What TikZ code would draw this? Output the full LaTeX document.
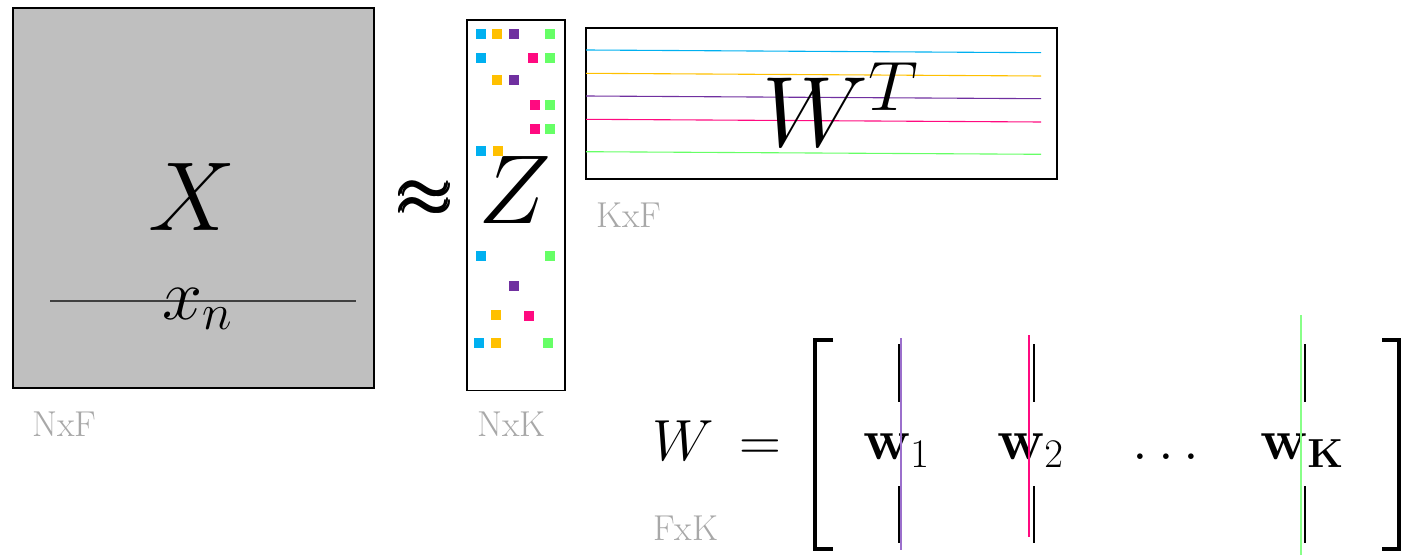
\RequirePackage{fix-cm}
\documentclass[tikz,border=0pt]{standalone}
\usepackage{amsmath}
\definecolor{ccyan}{HTML}{00B0F0}
\definecolor{cyellow}{HTML}{FFC000}
\definecolor{cpurple}{HTML}{7030A0}
\definecolor{cpink}{HTML}{FF0A80}
\definecolor{cgreen}{HTML}{66FF66}
\definecolor{lpurple}{HTML}{9B6FCC}
\definecolor{lgreen}{HTML}{88FF88}
\definecolor{labgray}{HTML}{A8A8A8}
\definecolor{boxgray}{HTML}{BFBFBF}
\tikzset{
  mat/.style={draw=black, line width=2.4pt},
  sq/.style={minimum size=10pt, inner sep=0pt, draw=none},
  dimlabel/.style={anchor=base west, inner sep=0pt, text=labgray, font=\fontsize{36}{36}\selectfont},
  bigmath/.style={inner sep=0pt, font=\fontsize{98}{98}\selectfont},
  midmath/.style={inner sep=0pt, font=\fontsize{58}{58}\selectfont},
  apxfont/.style={inner sep=0pt, font=\fontsize{72}{72}\selectfont},
  colline/.style={line width=1.1pt},
  bar/.style={line width=2pt, draw=black},
}
\begin{document}
\begin{tikzpicture}[x=1pt,y=-1pt]
\useasboundingbox (0,0) rectangle (1410,556);
% X matrix
\node[mat, fill=boxgray, minimum width=361pt, minimum height=380pt, inner sep=0pt, anchor=north west] (xbox) at (12,7) {};
\node[bigmath, anchor=base] (xlab) at (192,230) {$X$};
\coordinate (xl1) at (50,301);
\coordinate (xl2) at (356,301);
\draw[line width=1.4pt, draw=black!75] (xl1) -- (xl2);
\node[inner sep=0pt, anchor=base west, font=\fontsize{72}{72}\selectfont] (xn) at (162,319) {$x_n$};
\node[dimlabel] (nxf) at (32,436) {NxF};
% approx (poor man's bold)
\node[apxfont] (apx) at (426,199) {$\pmb{\approx}$};
% Z matrix
\node[draw=black, line width=1.5pt, minimum width=98pt, minimum height=370pt, inner sep=0pt, anchor=north west] (zbox) at (466,19.5) {};
\node[bigmath, anchor=base] (zlab) at (515,223) {$Z$};
\node[dimlabel] (nxk) at (477,436) {NxK};
% squares
\foreach \c/\x/\y [count=\i] in {
  ccyan/481/34, cyellow/497/34, cpurple/514/34, cgreen/550/34,
  ccyan/481/58, cpink/533/58, cgreen/550/58,
  cyellow/497/80, cpurple/514/80,
  cpink/535/105, cgreen/550/105,
  cpink/535/129, cgreen/550/129,
  ccyan/481/151, cyellow/498/151,
  ccyan/481/256, cgreen/550/256,
  cpurple/514/286,
  cyellow/496/315, cpink/529/316,
  ccyan/479/343, cyellow/496/343, cgreen/548/343}
  \node[sq, fill=\c] (sq\i) at (\x,\y) {};
% W^T matrix
\node[mat, minimum width=471pt, minimum height=151pt, inner sep=0pt, anchor=north west] (wtbox) at (585,27) {};
\foreach \c/\ya/\yb [count=\i] in {ccyan/50/52.7, cyellow/73.3/76, cpurple/96/98.7, cpink/119.3/122, cgreen/151.7/154.3}{
  \coordinate (wa\i) at (586,\ya);
  \coordinate (wb\i) at (1041,\yb);
  \draw[colline, draw=\c] (wa\i) -- (wb\i);
}
\node[bigmath, anchor=base west, font=\fontsize{100}{100}\selectfont] (wt) at (762,147) {$W^T$};
\node[dimlabel] (kxf) at (596,227) {KxF};
% W = [ ... ]
\node[midmath, anchor=base west] (weq) at (652,460) {$W\,=$};
\node[dimlabel] (fxk) at (653,540) {FxK};
% brackets
\coordinate (lb1) at (833,340); \coordinate (lb2) at (815,340); \coordinate (lb3) at (815,549); \coordinate (lb4) at (833,549);
\draw[line width=4pt, line cap=butt, line join=miter] (lb1) -- (lb2) -- (lb3) -- (lb4);
\coordinate (rb1) at (1382,340); \coordinate (rb2) at (1399,340); \coordinate (rb3) at (1399,549); \coordinate (rb4) at (1382,549);
\draw[line width=4pt, line cap=butt, line join=miter] (rb1) -- (rb2) -- (rb3) -- (rb4);
% column vectors
\node[midmath, anchor=base west] (w1) at (863,459) {$\mathbf{w}_1$};
\node[midmath, anchor=base west] (w2) at (997,459) {$\mathbf{w}_2$};
\node[midmath, anchor=base] (dots) at (1166,459) {$\ldots$};
\node[midmath, anchor=base west] (wk) at (1260,459) {$\mathbf{w}_{\mathbf{K}}$};
% bars
\foreach \x [count=\i] in {899,1034,1305}{
  \coordinate (bt\i) at (\x,344); \coordinate (bm\i) at (\x,402);
  \coordinate (bn\i) at (\x,486); \coordinate (bb\i) at (\x,543);
  \draw[bar] (bt\i) -- (bm\i);
  \draw[bar] (bn\i) -- (bb\i);
}
\coordinate (c1a) at (901,338); \coordinate (c1b) at (901,550);
\draw[line width=1.1pt, draw=lpurple] (c1a) -- (c1b);
\coordinate (c2a) at (1029,335); \coordinate (c2b) at (1029,537);
\draw[line width=1.2pt, draw=cpink] (c2a) -- (c2b);
\coordinate (c3a) at (1301,315); \coordinate (c3b) at (1301,555);
\draw[line width=1.2pt, draw=lgreen] (c3a) -- (c3b);
\end{tikzpicture}
\end{document}
